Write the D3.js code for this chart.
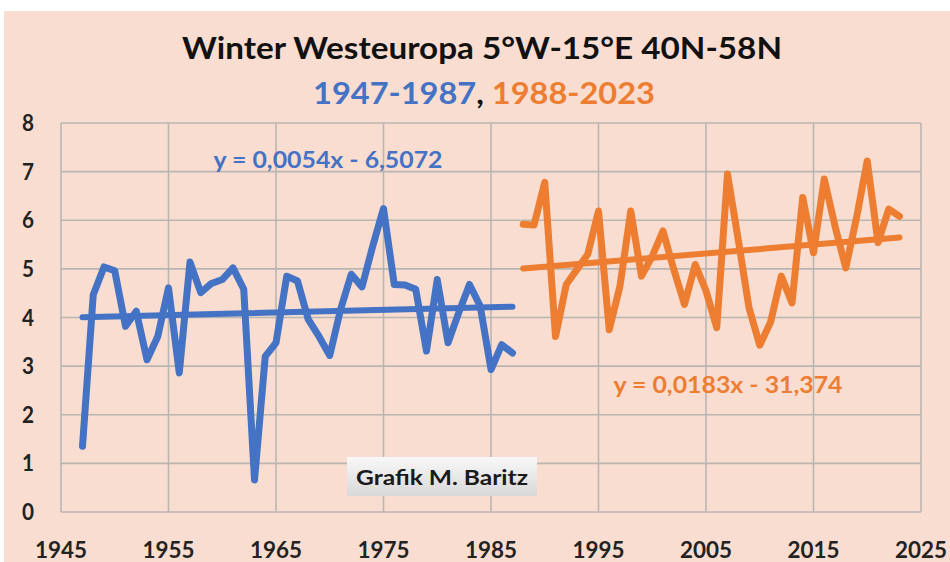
<!DOCTYPE html>
<html lang="en">
<head>
  <meta charset="UTF-8">
  <title>Winter Westeuropa</title>
  <script src="https://d3js.org/d3.v7.min.js"></script>
  <style>
    body { margin: 0; background: #fff; }
    svg { display: block; }
    text { font-family: Lato, 'Open Sans', sans-serif; font-weight: 700; }
  </style>
</head>
<body>
<svg width="950" height="562"></svg>
<script>
  // winter mean temperature, two periods
  const blueStart = 1947;
  const blueVals = [1.35, 4.47, 5.04, 4.96, 3.82, 4.13, 3.13, 3.61, 4.61, 2.86,
    5.14, 4.51, 4.70, 4.78, 5.02, 4.58, 0.66, 3.20, 3.48, 4.85,
    4.75, 3.96, 3.61, 3.22, 4.16, 4.89, 4.63, 5.47, 6.24, 4.68,
    4.67, 4.58, 3.31, 4.78, 3.48, 4.10, 4.68, 4.23, 2.93, 3.44, 3.27];
  const orangeStart = 1988;
  const orangeVals = [5.92, 5.90, 6.78, 3.61, 4.68, 4.99, 5.30, 6.19, 3.75, 4.65,
    6.19, 4.85, 5.26, 5.78, 4.99, 4.27, 5.09, 4.55, 3.79, 6.95,
    5.60, 4.20, 3.43, 3.90, 4.85, 4.30, 6.47, 5.33, 6.85, 5.88,
    5.02, 6.05, 7.22, 5.54, 6.23, 6.08];
  // trend lines (slope, intercept) as printed on the chart
  const blueTrend = [0.0054, -6.5072];
  const orangeTrend = [0.0183, -31.374];
  const xTicks = [1945, 1955, 1965, 1975, 1985, 1995, 2005, 2015, 2025];
  const yTicks = [0, 1, 2, 3, 4, 5, 6, 7, 8];

  const blue = "#4472C4", orange = "#ED7D31";
  const svg = d3.select("svg");

  // squeeze text to a given width, keeping its height
  function squeeze(sel, w) {
    sel.attr("textLength", w).attr("lengthAdjust", "spacingAndGlyphs");
    return sel;
  }

  svg.append("rect")
    .attr("x", 4).attr("y", 11)
    .attr("width", 946).attr("height", 551)
    .attr("fill", "#F9DDD0");

  const x = d3.scaleLinear().domain([1945, 2025]).range([61, 921]);
  const y = d3.scaleLinear().domain([0, 8]).range([512, 123]);

  // grid
  svg.append("g").selectAll("line")
    .data(yTicks).enter().append("line")
    .attr("x1", x(1945)).attr("x2", x(2025))
    .attr("y1", d => y(d)).attr("y2", d => y(d))
    .attr("stroke", "#B9B6B2").attr("stroke-width", 1.6);
  svg.append("g").selectAll("line")
    .data(xTicks).enter().append("line")
    .attr("x1", d => x(d)).attr("x2", d => x(d))
    .attr("y1", y(0)).attr("y2", y(8))
    .attr("stroke", "#B9B6B2").attr("stroke-width", 1.6);

  // tick labels
  svg.append("g").selectAll("text")
    .data(yTicks).enter().append("text")
    .attr("x", 28).attr("y", d => y(d) + 8)
    .attr("text-anchor", "middle")
    .attr("font-size", 23)
    .attr("fill", "#222")
    .text(d => d)
    .each(function() { squeeze(d3.select(this), 12); });
  svg.append("g").selectAll("text")
    .data(xTicks).enter().append("text")
    .attr("x", d => x(d)).attr("y", 558)
    .attr("text-anchor", "middle")
    .attr("font-size", 23)
    .attr("fill", "#222")
    .text(d => d)
    .each(function() { squeeze(d3.select(this), 52); });

  // trend lines
  function trendLine(coef, y0, y1, col) {
    svg.append("line")
      .attr("x1", x(y0)).attr("x2", x(y1))
      .attr("y1", y(coef[0] * y0 + coef[1]))
      .attr("y2", y(coef[0] * y1 + coef[1]))
      .attr("stroke", col).attr("stroke-width", 6)
      .attr("stroke-linecap", "round");
  }
  trendLine(blueTrend, blueStart, blueStart + blueVals.length - 1, blue);
  trendLine(orangeTrend, orangeStart, orangeStart + orangeVals.length - 1, orange);

  // data lines
  const line = d3.line().x(d => x(d[0])).y(d => y(d[1]));
  function series(start, vals, col) {
    svg.append("path")
      .datum(vals.map((v, i) => [start + i, v]))
      .attr("d", line)
      .attr("fill", "none")
      .attr("stroke", col).attr("stroke-width", 7)
      .attr("stroke-linejoin", "round")
      .attr("stroke-linecap", "round");
  }
  series(blueStart, blueVals, blue);
  series(orangeStart, orangeVals, orange);

  // equations
  squeeze(svg.append("text")
    .attr("x", 328).attr("y", 168)
    .attr("text-anchor", "middle").attr("font-size", 22)
    .attr("fill", blue)
    .text("y = 0,0054x - 6,5072"), 229);
  squeeze(svg.append("text")
    .attr("x", 728).attr("y", 393)
    .attr("text-anchor", "middle").attr("font-size", 22)
    .attr("fill", orange)
    .text("y = 0,0183x - 31,374"), 229);

  // title
  squeeze(svg.append("text")
    .attr("x", 482).attr("y", 59)
    .attr("text-anchor", "middle").attr("font-size", 31)
    .attr("fill", "#111")
    .text("Winter Westeuropa 5°W-15°E 40N-58N"), 600);
  const sub = svg.append("text")
    .attr("x", 484).attr("y", 104)
    .attr("text-anchor", "middle").attr("font-size", 31);
  sub.append("tspan").attr("fill", blue).text("1947-1987");
  sub.append("tspan").attr("fill", "#111").text(", ");
  sub.append("tspan").attr("fill", orange).text("1988-2023");
  squeeze(sub, 342);

  // credit box
  const grad = svg.append("defs").append("linearGradient")
    .attr("id", "box").attr("x1", 0).attr("y1", 0).attr("x2", 0).attr("y2", 1);
  grad.append("stop").attr("offset", "0%").attr("stop-color", "#F8F8F8");
  grad.append("stop").attr("offset", "100%").attr("stop-color", "#D8D8D8");
  svg.append("rect")
    .attr("x", 347).attr("y", 457).attr("width", 190).attr("height", 39)
    .attr("fill", "url(#box)");
  squeeze(svg.append("text")
    .attr("x", 442).attr("y", 485)
    .attr("text-anchor", "middle").attr("font-size", 20)
    .attr("fill", "#1a1a1a")
    .text("Grafik M. Baritz"), 172);
</script>
</body>
</html>
